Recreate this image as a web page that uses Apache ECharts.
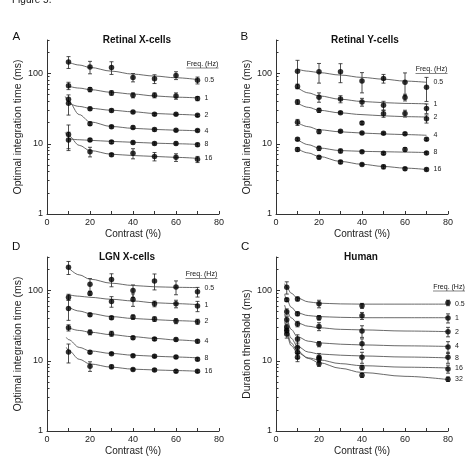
<!DOCTYPE html>
<html>
<head>
<meta charset="utf-8">
<script src="https://cdn.jsdelivr.net/npm/echarts@6/dist/echarts.min.js"></script>
<style>
html,body{margin:0;padding:0;background:#fff;}
#main{width:468px;height:466px;}
</style>
</head>
<body>
<div id="main"></div>
<script>
var FONT='"Liberation Sans", Arial, sans-serif';

//横轴 对比度
var contrastCells=[10,20,30,40,50,60,70];
var contrastHuman=[5,10,20,40,80];
var freqCells=['0.5','1','2','4','8','16'];
var freqHuman=['0.5','1','2','4','8','16','32'];
var yLabelVals=[1,10,100];
var yMinorVals=[2,3,4,5,6,7,8,9,20,30,40,50,60,70,80,90,200,300];

//A 视网膜 X 细胞
var retXPts=[
	[146,124,122,88,84,94,80],
	[67,59,53,49,49,48,44],
	[37.6,31.6,29.8,28.3,26.4,26.4,25.4],
	[43,19.3,17.5,17.1,15.9,15.6,15.4],
	[11.3,11.3,10.6,10.4,10.1,10.1,9.7],
	[13.5,7.7,6.95,7.3,6.6,6.4,6.0]
];
var retXErr=[
	[28,25,25,12,12,12,9],
	[8,4,4,4,4,5,3],
	[12,1.5,1.5,1,1,1,1],
	[0,1,0.8,0.8,0.8,0.6,0.6],
	[3.3,0.5,0.5,0.5,0.5,0.5,0.5],
	[5,1.2,0.3,1.2,0.9,0.8,0.6]
];
var retXFitX=[8.5,10,15,20,30,40,50,60,70];
var retXFit=[
	[null,145,132,122,108,98,92,87,82],
	[null,66,62,59,54,51,48,46,45],
	[null,38,34,32,30,28.5,27,26.2,25.5],
	[47,40,26,20.5,17.6,16.6,16,15.6,15.3],
	[null,11.8,11.4,11.2,10.8,10.5,10.2,10,9.8],
	[14.5,13,9.5,8,7.1,6.8,6.6,6.4,6.2]
];

//B 视网膜 Y 细胞
var retYPts=[
	[108,106,106,78,85,75,64],
	[65.6,46,43.3,39.3,35.2,45.7,31.8],
	[39.3,29.9,27.6,19.7,26.8,27,22.7],
	[20.2,14.9,15.1,14.2,14.1,13.9,11.6],
	[11.6,8.6,7.9,7.7,7.3,8.3,7.4],
	[8.3,6.4,5.5,5.06,4.69,4.4,4.3]
];
var retYErr=[
	[46,33,32,25,12,27,24],
	[5,7,5,5,5,5,5],
	[3,2,1,1,3,3,3],
	[2,1,0.5,0.5,0.5,0.5,0.5],
	[0.5,0.6,0.5,0.3,0.3,0.5,0.3],
	[0.5,0.3,0.3,0.2,0.3,0.2,0.2]
];
var retYFitX=[10,15,20,30,40,50,60,70];
var retYFit=[
	[115,108,103,95,88,83,78,75],
	[63,53,48,43,40,38.5,37.5,37],
	[38,33,30,27.5,26,25,24.3,24],
	[20,17.5,15.8,14.8,14.2,13.8,13.5,13.2],
	[11.5,9.7,8.7,8,7.8,7.7,7.6,7.5],
	[8.5,7.4,6.6,5.6,5.1,4.75,4.5,4.3]
];

//D LGN X 细胞
var lgnPts=[
	[214,123,143,100,137,112,95.7],
	[80.4,91,69.8,74.5,64.7,64.7,60],
	[55.6,45.2,41,41.8,39.2,36.7,36],
	[29.5,25.4,24.3,21.3,20.4,20,18.9],
	[null,13.2,12.6,11.8,11.6,11.3,10.5],
	[13.3,8.36,8.2,7.5,7.4,7.1,7.1]
];
var lgnErr=[
	[45,25,30,20,35,25,15],
	[8,5,12,15,6,8,10],
	[18,2,2,3,3,3,3],
	[3,2,2,1,1,1,1],
	[0,0.5,0.5,0.5,0.5,0.5,0.5],
	[4,1.3,0.5,0.3,0.3,0.3,0.3]
];
var lgnFitX=[9,10,15,20,30,40,50,60,70];
var lgnFit=[
	[null,210,167,145,127,118,113,111,110],
	[null,87,83,80,75,71,67,65,63],
	[null,58,51,47,42.5,40,38.5,37.2,36.3],
	[null,29.5,27,25.5,23.5,22,20.8,19.8,19],
	[21.5,20,15.5,13.8,12.7,12,11.6,11.3,11],
	[15.5,14,10.5,9,8.1,7.6,7.4,7.25,7.1]
];

//C 人
var humanPts=[
	[111,76,64.7,60.6,66.8],
	[73.8,46.7,41,43.7,40.5],
	[49.8,33.4,30.8,26.5,25.9],
	[38.4,20.4,17.3,17.5,15.7],
	[29.9,15.5,11.2,11.2,11.2],
	[24,13.2,10.6,8.0,7.66],
	[27,11.2,9.1,6.2,5.47]
];
var humanErr=[
	[22,5,8,5,6],
	[4,3,3,5,6],
	[5,3,4,5,4],
	[4,3,1.5,3,3],
	[3,3,1.5,2,2],
	[3,2.5,1,0.6,1],
	[2,1.5,0.8,0.4,0.4]
];
var humanFitX=[4,5,7,10,15,20,30,40,60,80];
var humanFit=[
	[125,112,92,78,69,66,64.5,64,64,64],
	[88,75,58,48,44,42.5,41.5,41,41,41],
	[62,52,41,34.5,31,29.5,28,27.5,26.5,26],
	[46,39,28,22,19,18,17.2,16.8,16.3,16],
	[36,30,21,16,13.3,12.5,12,11.7,11.3,11],
	[28,23.5,16.5,13,11,10.3,9.1,8.5,8.1,7.9],
	[32,26,18,13.8,10.8,9.4,7.8,6.8,6,5.4]
];

var panels=[
	{left:47,top:40,yName:'Optimal integration time (ms)',x:contrastCells,pts:retXPts,err:retXErr,fitX:retXFitX,fit:retXFit,freq:freqCells},
	{left:276,top:40,yName:'Optimal integration time (ms)',x:contrastCells,pts:retYPts,err:retYErr,fitX:retYFitX,fit:retYFit,freq:freqCells},
	{left:47,top:257,yName:'Optimal integration time (ms)',x:contrastCells,pts:lgnPts,err:lgnErr,fitX:lgnFitX,fit:lgnFit,freq:freqCells},
	{left:276,top:257,yName:'Duration threshold (ms)',x:contrastHuman,pts:humanPts,err:humanErr,fitX:humanFitX,fit:humanFit,freq:freqHuman}
];

var grids=[],xAxes=[],yAxes=[],series=[];
panels.forEach(function(p,i){
	grids.push({left:p.left,top:p.top,width:172,height:174});
	xAxes.push({
		type:'value',gridIndex:i,min:0,max:80,interval:10,
		name:'Contrast (%)',nameLocation:'middle',nameGap:15,
		nameTextStyle:{fontFamily:FONT,fontSize:10,color:'#222'},
		axisLine:{lineStyle:{color:'#333',width:1}},
		axisTick:{inside:true,length:3,lineStyle:{color:'#333'}},
		axisLabel:{fontFamily:FONT,fontSize:9,color:'#222',margin:4,
			formatter:function(v){return v%20===0?v:'';}},
		splitLine:{show:false}
	});
	yAxes.push({
		type:'log',gridIndex:i,min:1,max:300,position:'left',
		name:p.yName,nameLocation:'middle',nameGap:22,nameRotate:90,
		nameTextStyle:{fontFamily:FONT,fontSize:10.5,color:'#222'},
		axisLine:{show:true,lineStyle:{color:'#333',width:1}},
		axisTick:{inside:true,length:4,customValues:yLabelVals,lineStyle:{color:'#333'}},
		axisLabel:{fontFamily:FONT,fontSize:9,color:'#222',margin:4,customValues:yLabelVals,
			formatter:function(v){return (v===1||v===10||v===100)?v:'';}},
		splitLine:{show:false}
	});
	//次刻度
	yAxes.push({
		type:'log',gridIndex:i,min:1,max:300,position:'left',
		axisLine:{show:false},
		axisTick:{inside:true,length:2.5,customValues:yMinorVals,lineStyle:{color:'#333'}},
		axisLabel:{show:false},
		splitLine:{show:false}
	});
	var yIdx=2*i;
	//拟合曲线
	p.fit.forEach(function(row,j){
		var d=[];
		row.forEach(function(v,k){ if(v!=null) d.push([p.fitX[k],v]); });
		series.push({
			type:'line',xAxisIndex:i,yAxisIndex:yIdx,data:d,
			smooth:0.35,smoothMonotone:'x',symbol:'none',silent:true,
			lineStyle:{color:'#444',width:0.8},
			endLabel:{show:true,formatter:p.freq[j],fontFamily:FONT,fontSize:7,color:'#222',distance:7}
		});
	});
	//数据点
	var pts=[],bars=[];
	p.pts.forEach(function(row,j){
		row.forEach(function(v,k){
			if(v==null) return;
			pts.push([p.x[k],v]);
			var e=p.err[j][k];
			if(e>0) bars.push([p.x[k],Math.max(v-e,1.05),v+e]);
		});
	});
	series.push({
		type:'custom',xAxisIndex:i,yAxisIndex:yIdx,data:bars,silent:true,
		encode:{x:0,y:[1,2]},
		renderItem:function(params,api){
			var x=api.value(0);
			var a=api.coord([x,api.value(2)]),b=api.coord([x,api.value(1)]);
			var st={stroke:'#222',lineWidth:0.8};
			return {type:'group',children:[
				{type:'line',shape:{x1:a[0],y1:a[1],x2:b[0],y2:b[1]},style:st},
				{type:'line',shape:{x1:a[0]-2,y1:a[1],x2:a[0]+2,y2:a[1]},style:st},
				{type:'line',shape:{x1:b[0]-2,y1:b[1],x2:b[0]+2,y2:b[1]},style:st}
			]};
		}
	});
	series.push({
		type:'scatter',xAxisIndex:i,yAxisIndex:yIdx,data:pts,silent:true,
		symbol:'circle',symbolSize:5.5,itemStyle:{color:'#000'},z:5
	});
});

function txt(x,y,s,size,bold,align){
	return {type:'text',x:x,y:y,style:{text:s,font:(bold?'bold ':'')+size+'px '+FONT,fill:'#111',
		textAlign:align||'left',textVerticalAlign:'middle'}};
}
function freqHead(cx,cy){
	return [
		txt(cx,cy,'Freq. (Hz)',7,false,'center'),
		{type:'line',shape:{x1:cx-16,y1:cy+4,x2:cx+16,y2:cy+4},style:{stroke:'#333',lineWidth:0.6}}
	];
}

var graphics=[
	txt(12,0,'Figure 5.',10,false),
	txt(12.5,37,'A',11.5,false),
	txt(240.5,37,'B',11.5,false),
	txt(12,247,'D',11.5,false),
	txt(241,247,'C',11.5,false),
	txt(137,40,'Retinal X-cells',10,true,'center'),
	txt(365,40,'Retinal Y-cells',10,true,'center'),
	txt(127,257,'LGN X-cells',10,true,'center'),
	txt(361,257.5,'Human',10,true,'center')
].concat(freqHead(202.5,64),freqHead(431.5,69.5),freqHead(201.5,274.5),freqHead(449,287));

var myChart=echarts.init(document.getElementById('main'),null,{renderer:'canvas'});
myChart.setOption({
	animation:false,
	backgroundColor:'#fff',
	textStyle:{fontFamily:FONT},
	grid:grids,
	xAxis:xAxes,
	yAxis:yAxes,
	graphic:graphics,
	series:series
});
</script>
</body>
</html>
